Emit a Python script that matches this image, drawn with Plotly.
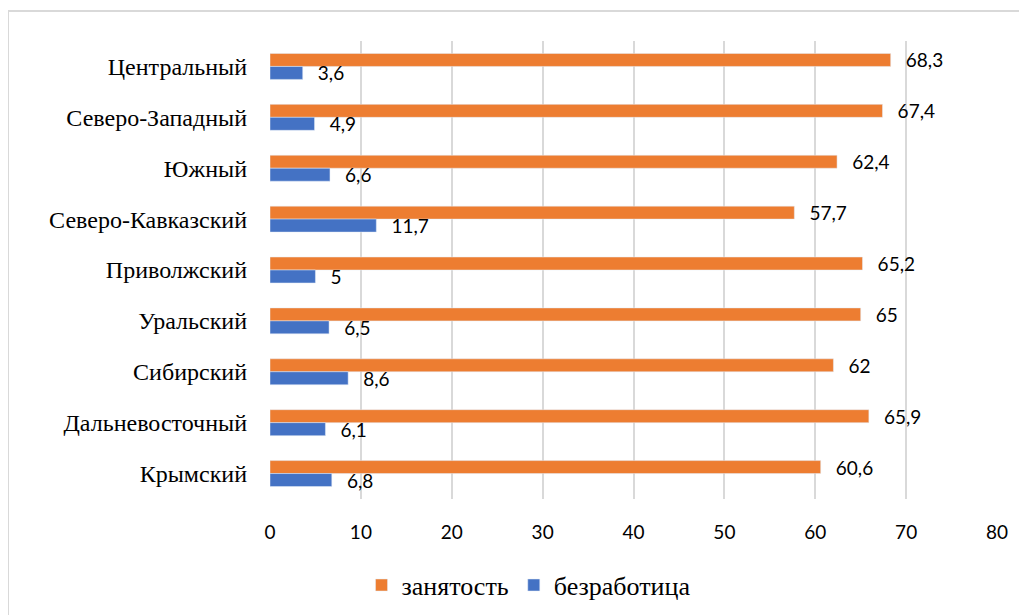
import plotly.graph_objects as go

regions = ["Центральный", "Северо-Западный", "Южный", "Северо-Кавказский",
           "Приволжский", "Уральский", "Сибирский", "Дальневосточный", "Крымский"]
employment = [68.3, 67.4, 62.4, 57.7, 65.2, 65, 62, 65.9, 60.6]
unemployment = [3.6, 4.9, 6.6, 11.7, 5, 6.5, 8.6, 6.1, 6.8]
x_ticks = [0, 10, 20, 30, 40, 50, 60, 70, 80]


def fmt(values):
    # decimal comma, as in the source
    return ["\u00a0\u00a0\u2009" + f"{v:g}".replace(".", ",") for v in values]


serif = "Times New Roman, Liberation Serif, DejaVu Serif, serif"
sans = "Lato"

fig = go.Figure()
fig.add_trace(go.Bar(
    y=regions, x=employment, name="занятость", orientation="h",
    marker=dict(color="#ED7D31"),
    text=fmt(employment), textposition="outside", cliponaxis=False,
    constraintext="none",
    outsidetextfont=dict(family=sans, size=19, color="#000000"),
))
fig.add_trace(go.Bar(
    y=regions, x=unemployment, name="безработица", orientation="h",
    marker=dict(color="#4472C4"),
    text=fmt(unemployment), textposition="outside", cliponaxis=False,
    constraintext="none",
    outsidetextfont=dict(family=sans, size=19, color="#000000"),
))

fig.update_layout(
    width=1027, height=615,
    font=dict(family=serif, color="#000000"),
    barmode="group", bargap=0.49, bargroupgap=0,
    margin=dict(l=262, r=38, t=33, b=124, autoexpand=False),
    plot_bgcolor="#ffffff", paper_bgcolor="#ffffff",
    legend=dict(orientation="h", x=0.3556, xanchor="center", y=-0.188, yanchor="middle",
                font=dict(family=serif, size=26, color="#000000"),
                traceorder="normal"),
    showlegend=True,
)
fig.update_xaxes(
    range=[0, 80], tickvals=x_ticks, showgrid=True, gridcolor="#d9d9d9", gridwidth=1.5,
    zeroline=False, showline=False, ticks="",
    tickfont=dict(family=sans, size=19, color="#000000"), ticklabelstandoff=20,
)
fig.update_yaxes(
    autorange="reversed", showgrid=False, zeroline=False, showline=False, ticks="",
    tickfont=dict(family=serif, size=24, color="#000000"), ticklabelstandoff=22,
)

# outer chart frame
fig.add_shape(type="rect", xref="paper", yref="paper",
              x0=-0.3604, y0=-0.4, x1=1.2, y1=1.0655,
              line=dict(color="#d9d9d9", width=2), fillcolor="rgba(0,0,0,0)", layer="below")

fig.write_html("out.html")
